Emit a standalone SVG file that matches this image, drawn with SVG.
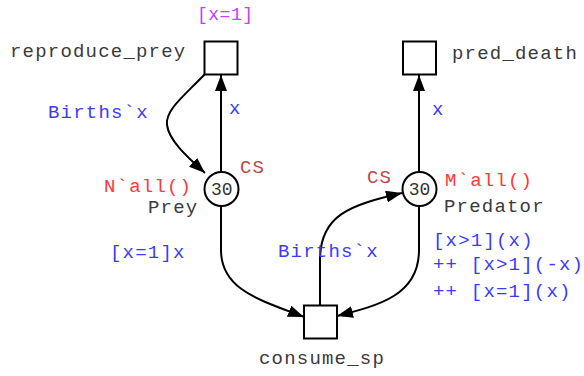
<svg xmlns="http://www.w3.org/2000/svg" width="584" height="376" viewBox="0 0 584 376">
<style>
text { font-family: "Liberation Mono", "DejaVu Sans Mono", monospace; font-size: 19px; letter-spacing: 1.2px; }
.name { fill: #3a3a3a; }
.lbl { fill: #3a3aff; }
.cs { fill: #c04848; }
.init { fill: #ff3838; }
.guard { fill: #c040ff; font-size: 18px; letter-spacing: 0.5px; }
.tok { fill: #333333; font-size: 18px; letter-spacing: 0px; }
.trans { fill: #ffffff; stroke: #000000; stroke-width: 2; }
.place { fill: #ffffff; stroke: #000000; stroke-width: 2; }
.edge { fill: none; stroke: #000000; stroke-width: 2; }
</style>
<defs>
<marker id="ah" viewBox="0 0 16 12" refX="16" refY="6" markerWidth="16" markerHeight="12" markerUnits="userSpaceOnUse" orient="auto">
<path d="M0,0 L16,6 L0,12 Z" fill="#000000"/>
</marker>
</defs>
<g id="edges">
<path class="edge" d="M221,171 L221,75" marker-end="url(#ah)"/>
<path class="edge" d="M205,74 C185,95 165,110 167,125 C169,140 185,155 205,173" marker-end="url(#ah)"/>
<path class="edge" d="M221,206 L221,250 C221,290 260,300 304,317" marker-end="url(#ah)"/>
<path class="edge" d="M320,305 L320,260 C320,215 350,205 402,193" marker-end="url(#ah)"/>
<path class="edge" d="M419,206 L419,250 C419,295 380,305 337,316" marker-end="url(#ah)"/>
<path class="edge" d="M419,171 L419,75" marker-end="url(#ah)"/>
</g>
<g id="reproduce_prey">
<rect class="trans" x="204.5" y="41.5" width="33" height="33"/>
<text class="guard" x="197" y="20">[x=1]</text>
<text class="name" x="10" y="57">reproduce_prey</text>
</g>
<g id="pred_death">
<rect class="trans" x="403" y="41.5" width="33" height="33"/>
<text class="name" x="452" y="59">pred_death</text>
</g>
<g id="consume_sp">
<rect class="trans" x="304" y="305.5" width="33" height="33"/>
<text class="name" x="259" y="364">consume_sp</text>
</g>
<g id="Prey">
<circle class="place" cx="221.5" cy="189" r="17"/>
<text class="tok" x="210.9" y="195">30</text>
<text class="init" x="104" y="192">N`all()</text>
<text class="cs" x="240" y="173">CS</text>
<text class="name" x="148" y="213">Prey</text>
</g>
<g id="Predator">
<circle class="place" cx="419.5" cy="189" r="17"/>
<text class="tok" x="408.7" y="195">30</text>
<text class="init" x="445" y="186">M`all()</text>
<text class="cs" x="367" y="183">CS</text>
<text class="name" x="444" y="212">Predator</text>
</g>
<g id="labels">
<text class="lbl" x="48" y="118">Births`x</text>
<text class="lbl" x="229" y="114">x</text>
<text class="lbl" x="432" y="115">x</text>
<text class="lbl" x="110" y="258">[x=1]x</text>
<text class="lbl" x="278" y="257">Births`x</text>
<text class="lbl" x="433" y="246">[x&gt;1](x)</text>
<text class="lbl" x="433" y="270">++ [x&gt;1](-x)</text>
<text class="lbl" x="433" y="297">++ [x=1](x)</text>
</g>
</svg>
